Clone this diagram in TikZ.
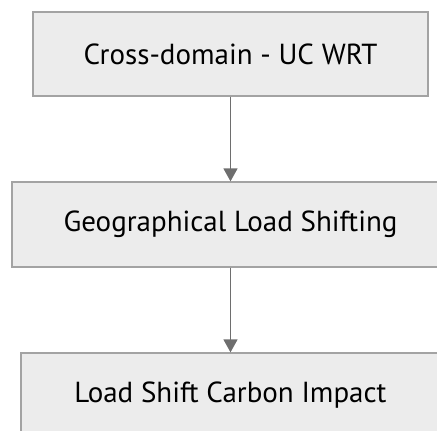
\documentclass[tikz,border=0pt]{standalone}
\usepackage{fontspec}
\setmainfont{PT Sans}
\usetikzlibrary{arrows.meta}
\definecolor{boxfill}{HTML}{ECECEC}
\definecolor{boxline}{HTML}{A3A3A3}
\definecolor{edgeline}{HTML}{6E6E6E}
\begin{document}
\begin{tikzpicture}[x=1pt,y=-1pt,
    box/.style={shape=rectangle,draw=boxline,fill=boxfill,line width=1.3pt,
      inner sep=0pt,minimum height=85pt,font=\fontsize{29}{34}\selectfont},
    flow/.style={-{Triangle[length=13pt,width=14pt]},draw=edgeline,fill=edgeline,line width=1.6pt}]
      \useasboundingbox (0,0) rectangle (437,431);
      \node[box,minimum width=395pt,minimum height=84pt] (UC) at (230.5,54) {Cross-domain - UC WRT};
      \node[box,minimum width=437pt] (GLS) at (230.5,224.5) {Geographical Load Shifting};
      \node[box,minimum width=419pt] (LSCI) at (230.5,395.5) {Load Shift Carbon Impact};

      \draw[flow] (UC) to (GLS);
      \draw[flow] (GLS) to (LSCI);
    \end{tikzpicture}
\end{document}
